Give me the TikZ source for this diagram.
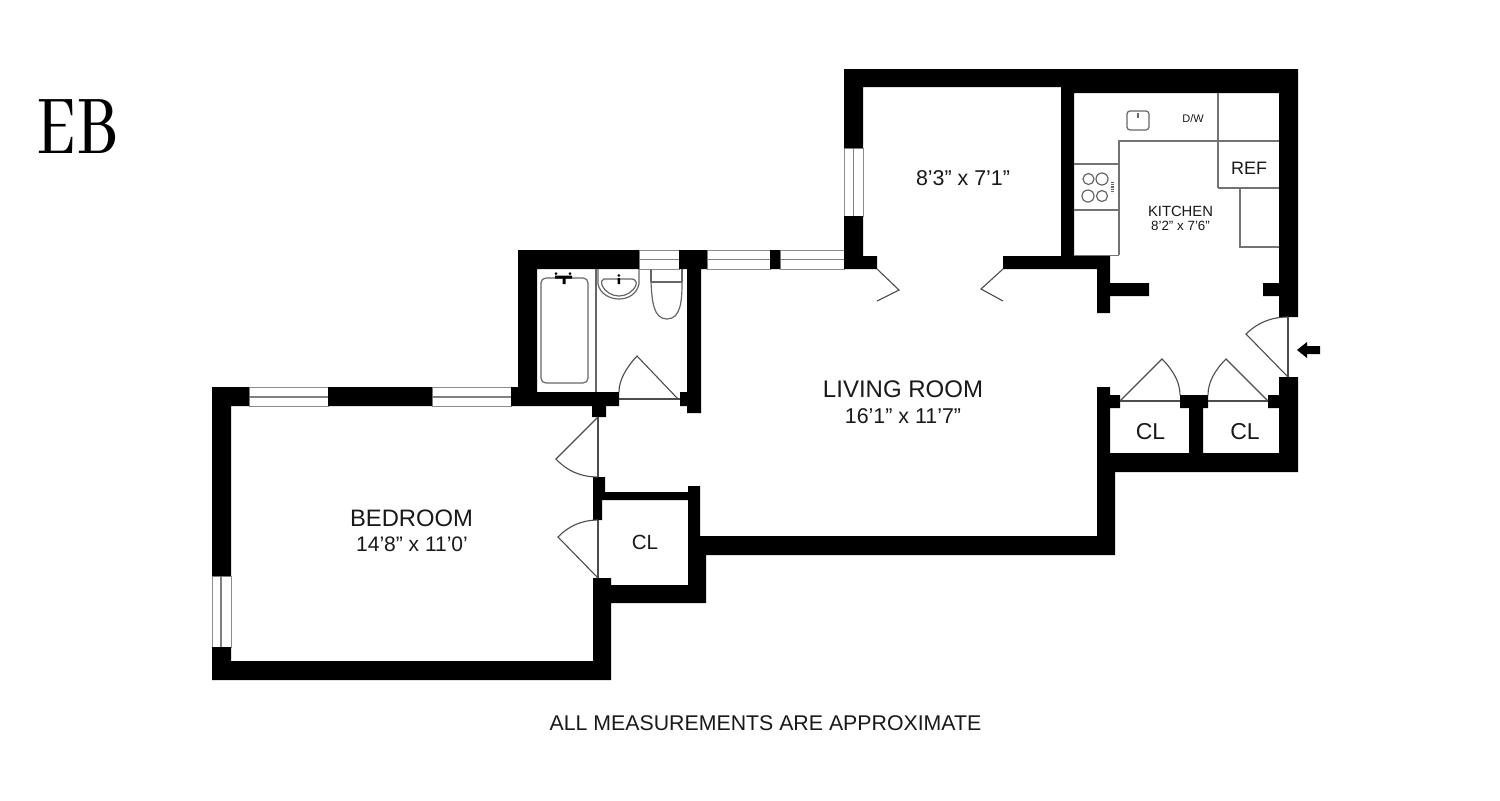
\documentclass[tikz,border=0pt]{standalone}
\usepackage{fontspec}
\newfontfamily\arialf{Liberation Sans}
\newfontfamily\logof{Abhaya Libre}
\tikzset{
  wall/.style={fill=black,draw=none},
  win/.style={draw=black!45,fill=white,line width=0.45pt},
  winline/.style={draw=black!50,line width=0.7pt},
  doorline/.style={draw=black!70,line width=0.55pt},
  fixture/.style={draw=black!60,line width=0.6pt},
  counter/.style={draw=black!55,line width=0.65pt},
  label/.style={inner sep=0pt,font=\arialf,text=black!90}
}
\newcommand{\txt}[5]{\node[label] (#1) at (#2) {\fontsize{#3}{#3}\selectfont #4#5};}
\begin{document}
\begin{tikzpicture}[x=0.5pt,y=-0.5pt]
\useasboundingbox (0,0) rectangle (1500,800);
\fill[white] (0,0) rectangle (1500,800);
% windows
\foreach \a/\b in {639/679,707/770,780/844}{
  \draw[win] (\a,250) rectangle (\b,269);
  \draw[winline] (\a,259.5) -- (\b,259.5);
}
\foreach \a/\b in {249/328,432/511}{
  \draw[win] (\a,387) rectangle (\b,406);
  \draw[winline] (\a,397) -- (\b,397);
}
\draw[win] (212,576) rectangle (231,647);
\draw[winline] (221,576) -- (221,647);
\draw[win] (844,148) rectangle (863,216);
\draw[winline] (853.5,148) -- (853.5,216);
% walls
\fill[wall]
  (844,69) rectangle (1298,87)
  (1061,87) rectangle (1298,93)
  (844,69) rectangle (863,148)
  (844,216) rectangle (863,269)
  (844,256) rectangle (877,269)
  (1061,87) rectangle (1074,269)
  (1003,256) rectangle (1110,269)
  (1097,256) rectangle (1110,313)
  (1110,283) rectangle (1149,296)
  (1263,283) rectangle (1279,296)
  (1279,69) rectangle (1298,317)
  (1279,377) rectangle (1298,472)
  (1097,453) rectangle (1298,472)
  (1097,387) rectangle (1110,472)
  (1110,395) rectangle (1120,408)
  (1180,395) rectangle (1208,408)
  (1189,408) rectangle (1203,453)
  (1268,395) rectangle (1279,408)
  (1097,472) rectangle (1115,555)
  (688,536) rectangle (1115,555)
  (688,486) rectangle (700,603)
  (700,536) rectangle (706,603)
  (593,585) rectangle (706,603)
  (593,492) rectangle (700,500)
  (593,477) rectangle (605,492)
  (593,492) rectangle (602,520)
  (593,578) rectangle (611,680)
  (212,661) rectangle (611,680)
  (212,387) rectangle (231,576)
  (212,647) rectangle (231,680)
  (212,387) rectangle (249,406)
  (328,387) rectangle (432,406)
  (511,387) rectangle (537,406)
  (537,392) rectangle (619,406)
  (592,406) rectangle (606,417)
  (518,250) rectangle (537,406)
  (518,250) rectangle (639,269)
  (679,250) rectangle (707,269)
  (770,250) rectangle (780,269)
  (687,269) rectangle (701,413)
  (680,392) rectangle (687,406);
% doors
\draw[doorline] (598,417) -- (598,477);
\draw[doorline] (598,520) -- (598,578);
\draw[doorline] (598,417) -- (556,459) .. controls (567,471) and (581,477) .. (598,477);
\draw[doorline] (598,578) -- (558,537) .. controls (568.5,526) and (582,520) .. (598,520);
\draw[doorline] (619,399) -- (680,399);
\draw[doorline] (678,399) -- (637,356) .. controls (625,369) and (619,381) .. (619,392);
\draw[doorline] (1120,401) -- (1180,401);
\draw[doorline] (1208,401) -- (1268,401);
\draw[doorline] (1120,401) -- (1162,359) .. controls (1174,371) and (1180,383) .. (1180,395);
\draw[doorline] (1268,401) -- (1226,359) .. controls (1214,371) and (1208,383) .. (1208,395);
\draw[doorline] (1288,317) -- (1288,377);
\draw[doorline] (1288,377) -- (1246,334) .. controls (1257,323) and (1271,317) .. (1288,317);
\draw[doorline] (877,269) -- (899,290) -- (877,301);
\draw[doorline] (1003,269) -- (981,289) -- (1003,301);
% entrance arrow
\fill[black] (1297,350) -- (1307,342) -- (1307,346) -- (1320,346) -- (1320,354) -- (1307,354) -- (1307,358) -- cycle;
% bathroom
\draw[fixture] (596,269) -- (596,392);
\draw[fixture] (546,278) -- (583,278) .. controls (586,278) and (588,280) .. (588,283) -- (588,378) .. controls (588,381) and (586,383) .. (583,383) -- (546,383) .. controls (543,383) and (541,381) .. (541,378) -- (541,283) .. controls (541,280) and (543,278) .. (546,278) -- cycle;
\fill[black] (555,275.5) rectangle (572,278.5) (562.5,278) rectangle (565.5,284);
\fill[black] (556,273.5) circle (1.5) (570,273.5) circle (1.5);
\draw[fixture] (598,269) -- (598,284) .. controls (600,294) and (610,299) .. (619,299) .. controls (628,299) and (637,294) .. (639,284) -- (639,269);
\draw[fixture] (604,279) -- (632,279) .. controls (635,279) and (637,282) .. (636,285) .. controls (633,292) and (626,296) .. (619,296) .. controls (612,296) and (605,292) .. (602,285) .. controls (601,282) and (602,279) .. (604,279) -- cycle;
\fill[black] (617.5,278) rectangle (620,284) (618.8,275.5) circle (1.5);
\draw[fixture] (651,269) -- (651,282) (682,282) -- (682,269);
\draw[fixture,line width=0.8pt] (651,282) -- (682,282);
\draw[fixture] (651,282) .. controls (652,300) and (653,319) .. (667,319) .. controls (681,319) and (682,300) .. (682,282);
% kitchen
\draw[counter] (1218,93) -- (1218,188);
\draw[counter] (1119,255) -- (1119,141) -- (1279,141);
\draw[counter] (1074,164) -- (1119,164);
\draw[counter] (1074,210) -- (1119,210);
\draw[counter] (1074,255.5) -- (1119,255.5);
\draw[counter] (1218,188) -- (1279,188);
\draw[counter,line width=0.8pt] (1240,188) -- (1240,247) -- (1279,247);
\draw[fixture,rounded corners=1.5pt] (1127,111) rectangle (1149,130);
\draw[fixture] (1138,113) -- (1138,118);
\draw[fixture] (1088.5,179) circle (5.5) (1102,179) circle (6) (1088,196) circle (6) (1102,196) circle (5.5);
\draw[black!60,line width=1.5pt,dash pattern=on 0.6pt off 0.5pt] (1112,182) -- (1112,193);
% labels
\node[inner sep=0pt,xscale=0.8] (logo) at (77.5,126.5) {\logof\fontsize{46}{46}\selectfont EB};
\txt{lr}{903,389}{12}{LIVING ROOM}{}
\txt{lrd}{903,416.5}{10.7}{16’1” x 11’7”}{}
\txt{br}{411.5,518}{11.9}{BEDROOM}{}
\txt{brd}{412,544}{10.5}{14’8” x 11’0’}{}
\txt{dn}{963,178}{10.7}{8’3” x 7’1”}{}
\txt{kt}{1180.5,211}{7.4}{KITCHEN}{}
\txt{ktd}{1180.5,226}{6.7}{8’2” x 7’6”}{}
\txt{ref}{1249,168}{9}{REF}{}
\txt{dw}{1193,118.5}{5.5}{D/W}{}
\txt{cla}{1150.5,431.5}{11.5}{CL}{}
\txt{clb}{1245,431.5}{11.5}{CL}{}
\txt{clc}{645,542}{10.25}{CL}{}
\txt{note}{765.5,723}{10.65}{ALL MEASUREMENTS ARE APPROXIMATE}{}
\end{tikzpicture}
\end{document}
